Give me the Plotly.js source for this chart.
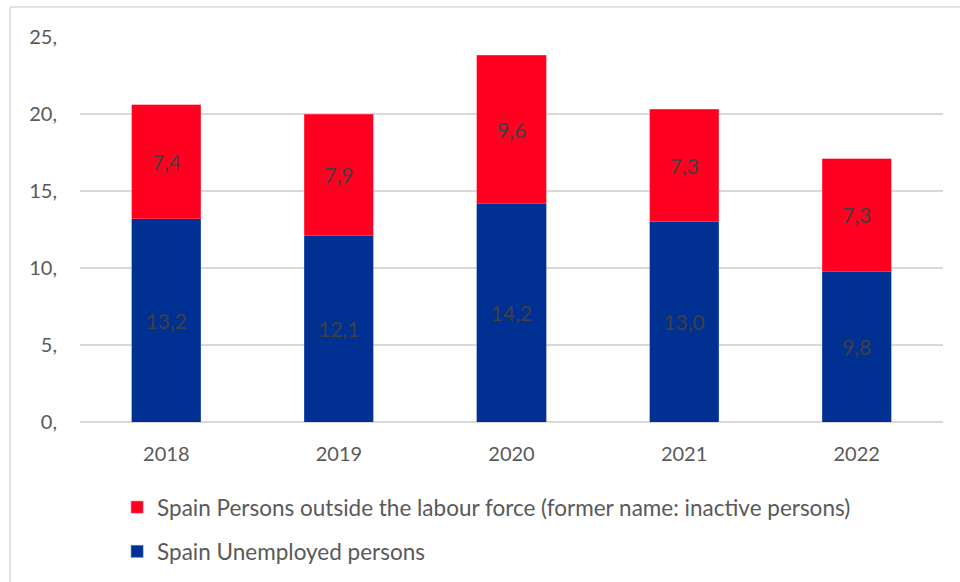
<!DOCTYPE html>
<html>
<head>
<meta charset="utf-8">
<script src="https://cdn.plot.ly/plotly-3.0.1.min.js"></script>
<style>html,body{margin:0;padding:0;background:#fff;}#chart{width:960px;height:582px;}</style>
</head>
<body>
<div id="chart"></div>
<script>
var years = ['2018', '2019', '2020', '2021', '2022'];
var unemployed = [13.2, 12.1, 14.2, 13.0, 9.8];
var outsideLabour = [7.4, 7.9, 9.6, 7.3, 7.3];
var tickValues = [0, 5, 10, 15, 20, 25];
var tickLabels = ['0,', '5,', '10,', '15,', '20,', '25,'];
var nameUnemployed = 'Spain Unemployed persons';
var nameOutside = 'Spain Persons outside the labour force (former name: inactive persons)';

var FONT = 'Lato, Calibri, Carlito, sans-serif';

var traces = [
  {
    type: 'bar', x: years, y: unemployed, name: nameUnemployed, legendgroup: 'a', legendrank: 2,
    marker: {color: '#003092', line: {color: '#4a6fc0', width: 0.5}},
    texttemplate: '%{y:.1f}', textposition: 'inside', insidetextanchor: 'middle',
    textfont: {family: FONT, size: 21, color: '#404040'}, hoverinfo: 'skip'
  },
  {
    type: 'bar', x: years, y: outsideLabour, name: nameOutside, legendgroup: 'b', legendrank: 1,
    marker: {color: '#ff0020', line: {color: '#ff6070', width: 0.5}},
    texttemplate: '%{y:.1f}', textposition: 'inside', insidetextanchor: 'middle',
    textfont: {family: FONT, size: 21, color: '#404040'}, hoverinfo: 'skip'
  }
];

var layout = {
  width: 960, height: 582,
  margin: {l: 80, r: 17, t: 37, b: 160},
  barmode: 'stack', bargap: 0.6,
  separators: ',.',
  paper_bgcolor: '#fff', plot_bgcolor: '#fff',
  font: {family: FONT, size: 20, color: '#595959'},
  xaxis: {
    type: 'category', showgrid: false, zeroline: false, showline: false,
    ticks: '', ticklabelstandoff: 18, automargin: false,
    tickfont: {family: FONT, size: 20, color: '#595959'}
  },
  yaxis: {
    range: [0, 25], tickvals: tickValues, ticktext: tickLabels,
    showgrid: true, gridcolor: '#d9d9d9', gridwidth: 1.5,
    zeroline: true, zerolinecolor: '#d9d9d9', zerolinewidth: 1.5,
    showline: false, ticks: '', ticklabelstandoff: 22, automargin: false,
    tickfont: {family: FONT, size: 20, color: '#595959'}
  },
  showlegend: true,
  legend: {
    orientation: 'v', x: 0.043, xanchor: 'left',
    yref: 'container', y: 0.165, yanchor: 'top',
    traceorder: 'grouped', tracegroupgap: 12,
    font: {family: FONT, size: 22.5, color: '#595959'},
    itemwidth: 30, bgcolor: 'rgba(0,0,0,0)'
  },
  shapes: [
    {type: 'line', xref: 'paper', yref: 'paper', x0: -0.081, x1: -0.081, y0: 1.078, y1: -0.42,
     line: {color: '#d9d9d9', width: 1.5}},
    {type: 'line', xref: 'paper', yref: 'paper', x0: -0.081, x1: 1.03, y0: 1.078, y1: 1.078,
     line: {color: '#d9d9d9', width: 1.5}}
  ]
};

Plotly.newPlot('chart', traces, layout, {displayModeBar: false, staticPlot: true});
</script>
</body>
</html>
